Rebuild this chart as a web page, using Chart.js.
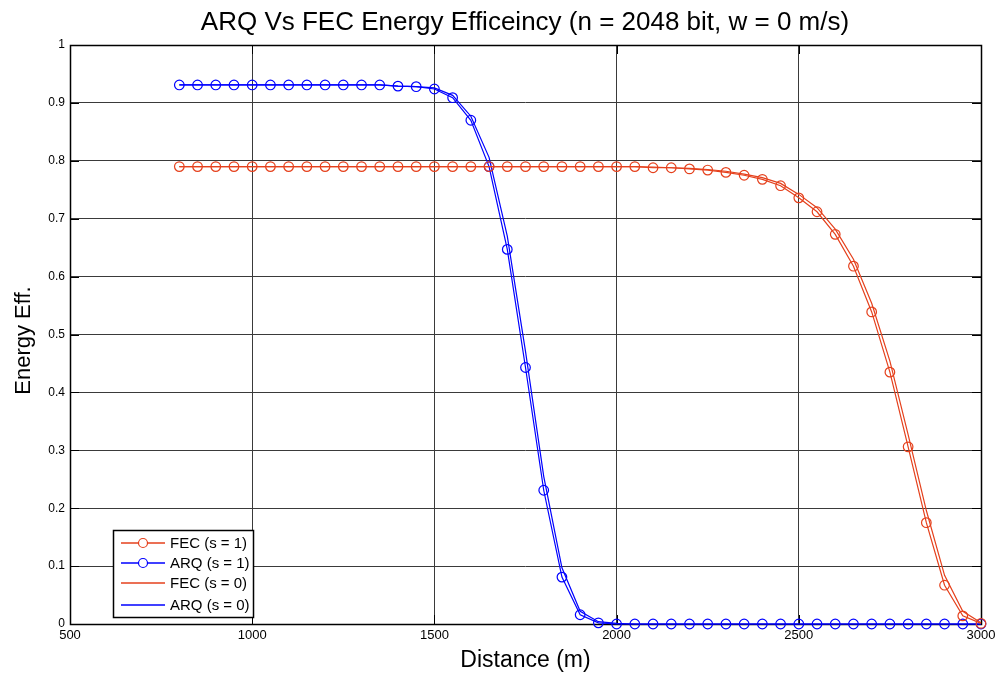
<!DOCTYPE html>
<html>
<head>
<meta charset="utf-8">
<title>ARQ Vs FEC Energy Efficiency</title>
<script src="https://cdn.jsdelivr.net/npm/chart.js"></script>
<style>
  html, body { margin: 0; padding: 0; background: #fff; }
  #chart { display: block; background: #fff; }
</style>
</head>
<body>
<canvas id="chart" width="1000" height="677"></canvas>
<script>
// distance in metres, one point every 50 m
const distance = [
  800, 850, 900, 950, 1000, 1050, 1100, 1150, 1200, 1250, 1300, 1350,
  1400, 1450, 1500, 1550, 1600, 1650, 1700, 1750, 1800, 1850, 1900, 1950,
  2000, 2050, 2100, 2150, 2200, 2250, 2300, 2350, 2400, 2450, 2500, 2550,
  2600, 2650, 2700, 2750, 2800, 2850, 2900, 2950, 3000
];

const fecS1 = [
  0.79, 0.79, 0.79, 0.79, 0.79, 0.79, 0.79, 0.79, 0.79, 0.79, 0.79, 0.79,
  0.79, 0.79, 0.79, 0.79, 0.79, 0.79, 0.79, 0.79, 0.79, 0.79, 0.79, 0.79,
  0.79, 0.79, 0.788, 0.788, 0.786, 0.784, 0.780, 0.775, 0.768, 0.757, 0.736, 0.712,
  0.673, 0.618, 0.539, 0.435, 0.306, 0.175, 0.067, 0.014, 0.001
];

const arqS1 = [
  0.931, 0.931, 0.931, 0.931, 0.931, 0.931, 0.931, 0.931, 0.931, 0.931, 0.931, 0.931,
  0.929, 0.928, 0.924, 0.909, 0.870, 0.790, 0.647, 0.443, 0.231, 0.081, 0.016, 0.002,
  0, 0, 0, 0, 0, 0, 0, 0, 0, 0, 0, 0,
  0, 0, 0, 0, 0, 0, 0, 0, 0
];

const fecS0 = [
  0.79, 0.79, 0.79, 0.79, 0.79, 0.79, 0.79, 0.79, 0.79, 0.79, 0.79, 0.79,
  0.79, 0.79, 0.79, 0.79, 0.79, 0.79, 0.79, 0.79, 0.79, 0.79, 0.79, 0.79,
  0.79, 0.79, 0.789, 0.788, 0.787, 0.785, 0.782, 0.777, 0.771, 0.761, 0.742, 0.719,
  0.682, 0.630, 0.554, 0.454, 0.327, 0.196, 0.084, 0.022, 0.002
];

const arqS0 = [
  0.931, 0.931, 0.931, 0.931, 0.931, 0.931, 0.931, 0.931, 0.931, 0.931, 0.931, 0.931,
  0.929, 0.928, 0.926, 0.913, 0.877, 0.806, 0.670, 0.471, 0.255, 0.097, 0.022, 0.004,
  0.001, 0, 0, 0, 0, 0, 0, 0, 0, 0, 0, 0,
  0, 0, 0, 0, 0, 0, 0, 0, 0
];

const seriesNames = ["FEC (s = 1)", "ARQ (s = 1)", "FEC (s = 0)", "ARQ (s = 0)"];
const xTicks = [500, 1000, 1500, 2000, 2500, 3000];

const RED = "#e5401c";
const BLUE = "#0000ff";
const FONT = "'Liberation Sans', Arial, sans-serif";

const toXY = ys => distance.map((d, i) => ({ x: d, y: ys[i] }));

function lineSet(label, ys, color, markers) {
  return {
    label,
    data: toXY(ys),
    borderColor: color,
    borderWidth: 1.2,
    tension: 0,
    clip: 8,
    pointStyle: "circle",
    pointRadius: markers ? 4.8 : 0,
    pointHoverRadius: markers ? 4.8 : 0,
    pointBorderColor: color,
    pointBackgroundColor: "rgba(0,0,0,0)",
    pointBorderWidth: 1.2,
    fill: false,
  };
}

// axes box and inner tick marks go under the lines,
// titles and the legend on top
const decorations = {
  id: "decorations",
  beforeDatasetsDraw(chart) {
    const { ctx, chartArea: a, scales } = chart;
    ctx.save();
    ctx.strokeStyle = "#000";
    ctx.lineWidth = 1;
    const tl = 9;
    ctx.beginPath();
    for (const v of xTicks) {
      const px = Math.round(scales.x.getPixelForValue(v)) + 0.5;
      ctx.moveTo(px, a.bottom); ctx.lineTo(px, a.bottom - tl);
      ctx.moveTo(px, a.top); ctx.lineTo(px, a.top + tl);
    }
    for (let i = 0; i <= 10; i++) {
      const py = Math.round(scales.y.getPixelForValue(i / 10)) + 0.5;
      ctx.moveTo(a.left, py); ctx.lineTo(a.left + tl, py);
      ctx.moveTo(a.right, py); ctx.lineTo(a.right - tl, py);
    }
    ctx.stroke();
    ctx.lineWidth = 1.5;
    ctx.strokeRect(Math.round(a.left) + 0.5, Math.round(a.top) + 0.5,
                   Math.round(a.right - a.left), Math.round(a.bottom - a.top));
    ctx.restore();
  },
  afterDraw(chart) {
    const { ctx, chartArea: a } = chart;
    ctx.save();

    ctx.fillStyle = "#000";
    ctx.textAlign = "center";
    ctx.textBaseline = "middle";
    ctx.font = "26px " + FONT;
    ctx.fillText("ARQ Vs FEC Energy Efficeincy (n = 2048 bit, w = 0 m/s)", 525, 23);
    ctx.font = "23px " + FONT;
    ctx.fillText("Distance (m)", (a.left + a.right) / 2, 661);
    ctx.save();
    ctx.translate(24, (a.top + a.bottom) / 2 + 6);
    ctx.rotate(-Math.PI / 2);
    ctx.font = "22px " + FONT;
    ctx.fillText("Energy Eff.", 0, 0);
    ctx.restore();

    // legend
    const lx = 113, ly = 530, lw = 140, lh = 87;
    ctx.fillStyle = "#fff";
    ctx.fillRect(lx, ly, lw, lh);
    ctx.strokeStyle = "#000";
    ctx.lineWidth = 1.5;
    ctx.strokeRect(lx + 0.5, ly + 0.5, lw, lh);
    const rows = [543, 563, 583, 605];
    chart.data.datasets.forEach((ds, i) => {
      const y = rows[i];
      ctx.strokeStyle = ds.borderColor;
      ctx.lineWidth = 1.5;
      ctx.beginPath();
      ctx.moveTo(121, y); ctx.lineTo(165, y);
      ctx.stroke();
      if (ds.pointRadius > 0) {
        ctx.lineWidth = 1.2;
        ctx.fillStyle = "#fff";
        ctx.beginPath();
        ctx.arc(143, y, 4.5, 0, Math.PI * 2);
        ctx.fill();
        ctx.stroke();
      }
      ctx.fillStyle = "#000";
      ctx.textAlign = "left";
      ctx.font = "15px " + FONT;
      ctx.fillText(ds.label, 170, y + 1);
    });

    ctx.restore();
  },
};

new Chart(document.getElementById("chart"), {
  type: "line",
  data: {
    datasets: [
      lineSet(seriesNames[0], fecS1, RED, true),
      lineSet(seriesNames[1], arqS1, BLUE, true),
      lineSet(seriesNames[2], fecS0, RED, false),
      lineSet(seriesNames[3], arqS0, BLUE, false),
    ],
  },
  options: {
    responsive: false,
    animation: false,
    devicePixelRatio: 1,
    layout: { padding: { top: 45, right: 19, left: 0, bottom: 0 } },
    plugins: {
      legend: { display: false },
      title: { display: false },
      tooltip: { enabled: false },
    },
    scales: {
      x: {
        type: "linear",
        min: 500,
        max: 3000,
        afterFit: s => { s.height = 53; },
        afterBuildTicks: s => { s.ticks = xTicks.map(v => ({ value: v })); },
        ticks: {
          color: "#000",
          padding: 4,
          maxRotation: 0,
          font: { family: FONT, size: 13 },
          callback: v => String(v),
        },
        grid: { color: "#3a3a3a", lineWidth: 1, drawTicks: false },
        border: { display: false },
      },
      y: {
        min: 0,
        max: 1,
        afterFit: s => { s.width = 70; },
        ticks: {
          stepSize: 0.1,
          color: "#000",
          padding: 5,
          font: { family: FONT, size: 12 },
          callback: v => String(+v.toFixed(1)),
        },
        grid: { color: "#3a3a3a", lineWidth: 1, drawTicks: false },
        border: { display: false },
      },
    },
  },
  plugins: [decorations],
});
</script>
</body>
</html>
